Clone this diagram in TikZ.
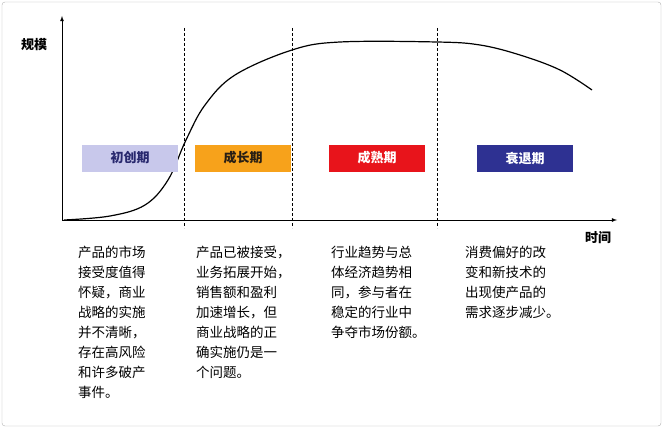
\documentclass[tikz,border=0pt]{standalone}
\usepackage{fontspec}
\newfontfamily\cjk{Noto Sans CJK SC}
\begin{document}
\begin{tikzpicture}[x=1pt,y=-1pt,
  phase/.style={minimum width=96pt,minimum height=27pt,inner sep=0pt,font=\cjk\fontsize{13}{13}\selectfont\bfseries},
  desc/.style={anchor=north west,align=left,inner sep=0pt,font=\cjk\fontsize{13.5}{20}\selectfont},
  sepline/.style={densely dashed,line width=0.6pt}]
\useasboundingbox (0,0) rectangle (663,428);
\draw[gray!60,rounded corners=3pt] (2,2) rectangle (661,426);
\coordinate (o) at (62,220);
\coordinate (ytop) at (62,16);
\coordinate (xend) at (617,220);
\draw[line width=0.8pt,-latex] (o) -- (ytop);
\draw[line width=0.8pt,-latex] (o) -- (xend);
\node[font=\cjk\fontsize{13}{13}\selectfont\bfseries] (ylab) at (34,45) {规模};
\node[font=\cjk\fontsize{13}{13}\selectfont\bfseries] (xlab) at (598,238) {时间};
\foreach \x in {184,292,437} \draw[sepline] (\x,28) -- (\x,228);
\draw[line width=1.2pt] plot[smooth,tension=0.6] coordinates {(64,220) (110,216) (145,205) (168,180) (186,140) (205,105) (235,75) (292,50) (340,42) (437,42) (480,45) (520,55) (560,70) (592,90)};
\node[phase,fill={rgb,255:red,200;green,200;blue,235},text={rgb,255:red,40;green,40;blue,110}] (p1) at (130,158) {初创期};
\node[phase,fill={rgb,255:red,247;green,162;blue,27},text={rgb,255:red,40;green,30;blue,20}] (p2) at (243,158) {成长期};
\node[phase,fill={rgb,255:red,232;green,20;blue,27},text=white] (p3) at (377,158) {成熟期};
\node[phase,fill={rgb,255:red,46;green,49;blue,146},text=white] (p4) at (525,158) {衰退期};
\node[desc] (d1) at (78,246) {产品的市场\\接受度值得\\怀疑，商业\\战略的实施\\并不清晰，\\存在高风险\\和许多破产\\事件。};
\node[desc] (d2) at (196,246) {产品已被接受，\\业务拓展开始，\\销售额和盈利\\加速增长，但\\商业战略的正\\确实施仍是一\\个问题。};
\node[desc] (d3) at (331,246) {行业趋势与总\\体经济趋势相\\同，参与者在\\稳定的行业中\\争夺市场份额。};
\node[desc] (d4) at (465,246) {消费偏好的改\\变和新技术的\\出现使产品的\\需求逐步减少。};
\end{tikzpicture}
\end{document}
